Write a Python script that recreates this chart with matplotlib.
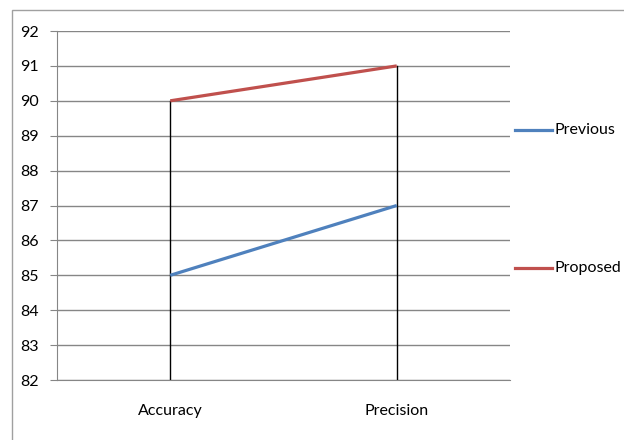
import matplotlib
matplotlib.use("Agg")
import matplotlib.pyplot as plt
from matplotlib.patches import Rectangle
from matplotlib.lines import Line2D

categories = ["Accuracy", "Precision"]
previous = [85, 87]
proposed = [90, 91]
yticks = [82, 83, 84, 85, 86, 87, 88, 89, 90, 91, 92]

plt.rcParams['font.family'] = ['Lato', 'DejaVu Sans']

fig = plt.figure(figsize=(6.24, 4.4), dpi=100)
ax = fig.add_axes([57/624, 1-380/440, (510-57)/624, (380-31)/440])

x = list(range(len(categories)))
# drop lines
for xi, a, b in zip(x, previous, proposed):
    ax.plot([xi, xi], [82, max(a, b)], color='black', lw=1, zorder=2)
ax.plot(x, previous, color='#4F81BD', lw=2.3, zorder=3, solid_capstyle='butt')
ax.plot(x, proposed, color='#C0504D', lw=2.3, zorder=3, solid_capstyle='butt')

ax.set_xlim(-0.5, 1.5)
ax.set_ylim(82, 92)
ax.set_yticks(yticks)
ax.set_xticks(x)
ax.set_xticklabels(categories)
ax.grid(axis='y', color='#868686', lw=1)
ax.set_axisbelow(True)
for s in ['top', 'right']:
    ax.spines[s].set_visible(False)
ax.spines['left'].set_color('#868686')
ax.spines['bottom'].set_color('#868686')
ax.tick_params(axis='y', length=5, color='#868686', labelsize=11.5, pad=8)
ax.tick_params(axis='x', length=0, labelsize=11.5, pad=17)

# legend entries
fig.add_artist(Line2D([515/624, 552/624], [1-130/440, 1-130/440], color='#4F81BD', lw=2.3))
fig.text(555/624, 1-130/440, "Previous", va='center', ha='left', fontsize=11.5)
fig.add_artist(Line2D([515/624, 552/624], [1-268/440, 1-268/440], color='#C0504D', lw=2.3))
fig.text(555/624, 1-268/440, "Proposed", va='center', ha='left', fontsize=11.5)

# outer border
fig.add_artist(Rectangle((12/624, -0.05), 1.0, 1-10/440+0.05, transform=fig.transFigure,
                         fill=False, edgecolor='#A0A0A0', lw=1))

fig.savefig("out.png", dpi=100)
